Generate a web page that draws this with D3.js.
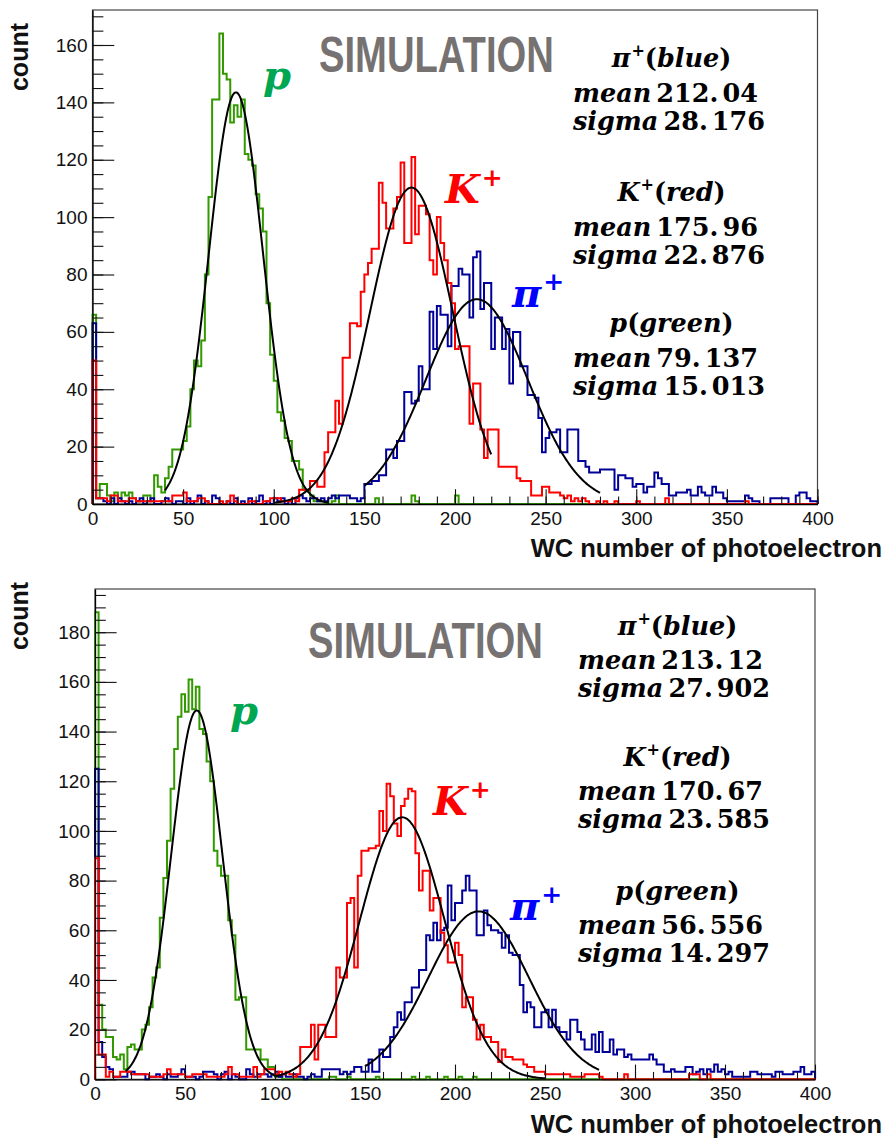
<!DOCTYPE html>
<html>
<head>
<meta charset="utf-8">
<title>WC number of photoelectron</title>
<script src="https://cdnjs.cloudflare.com/ajax/libs/d3/7.8.5/d3.min.js"></script>
<style>
  html, body { margin: 0; padding: 0; background: #fff; }
  svg { display: block; }
</style>
</head>
<body>
<svg id="chart" width="888" height="1142"></svg>
<script>
// 200 bins of width 2 covering 0-400 photoelectrons
const binWidth = 2;
const xTickValues = [0, 50, 100, 150, 200, 250, 300, 350, 400];

// Particle species, in the order the stats text lists them
const particleSymbols = ['π', 'K', 'p'];
const particleCharges = ['+', '+', ''];
const particleColorNames = ['blue', 'red', 'green'];

// ---- Upper panel: counts per bin ----
const upperProton = [
  66,2,7,7,3,1,4,2,4,3, 4,2,1,1,3,3,1,10,6,4,
  9,13,19,19,19,22,27,40,50,48, 57,80,107,141,141,164,150,148,133,139,
  135,141,122,120,118,108,103,95,70,52, 43,32,29,23,22,15,15,12,5,5,
  3,1,1,1,0,0,1,3,0,0, 0,0,0,0,0,0,0,0,2,0,
  0,0,0,0,0,0,0,0,3,1, 0,0,0,0,0,0,0,0,0,0,
  3,0,0,0,0,0,0,0,0,0, 0,0,0,0,0,0,0,0,0,0,
  0,0,0,0,0,0,0,0,0,0, 0,0,0,0,0,0,0,0,0,0,
  0,0,0,0,0,0,0,0,0,0, 0,0,0,0,0,0,0,0,0,0,
  0,0,0,0,0,0,0,0,0,0, 0,0,0,0,0,0,0,0,0,0,
  0,0,0,0,0,0,0,0,0,0, 0,0,0,0,0,0,0,0,0,0
];
const upperKaon = [
  50,2,2,2,1,3,3,1,1,1, 2,2,1,1,1,1,1,1,1,1,
  1,1,3,3,3,4,1,1,1,2, 2,1,0,0,0,1,0,1,3,1,
  0,0,0,1,1,0,0,1,1,2, 2,2,1,1,1,2,1,5,5,5,
  8,8,6,6,18,25,25,36,28,51, 51,63,63,62,74,80,84,89,89,112,
  105,96,96,103,107,119,91,91,121,94, 104,104,101,85,80,100,91,85,77,70,
  54,55,55,55,28,42,42,26,16,26, 26,26,13,13,13,13,13,9,8,8,
  8,3,3,3,6,6,4,4,4,3, 2,3,1,2,1,2,1,0,0,1,
  0,1,0,0,1,0,0,0,0,0, 1,0,0,0,0,0,0,0,2,0,
  0,0,0,0,0,0,0,0,0,0, 0,0,0,0,0,0,0,0,0,0,
  1,0,0,0,0,0,0,0,0,0, 0,0,0,0,0,0,0,0,0,0
];
const upperPion = [
  63,2,2,1,0,2,0,2,1,0, 1,0,1,2,0,1,2,0,0,1,
  2,1,0,1,1,0,2,0,1,3, 0,1,0,3,2,0,0,1,0,2,
  0,1,0,2,0,1,3,0,1,0, 2,1,2,0,1,0,2,3,2,1,
  2,2,1,2,1,2,3,2,3,3, 3,2,2,1,2,7,7,8,8,10,
  10,19,19,16,22,22,39,39,35,36, 48,40,40,67,54,69,66,66,55,76,
  76,82,80,80,65,86,88,68,77,77, 54,65,65,54,61,42,60,60,48,48,
  38,38,37,30,18,23,25,25,26,18, 18,26,26,26,15,15,13,11,11,11,
  12,12,12,12,5,10,10,9,9,6, 7,7,4,6,6,11,9,7,7,3,
  3,4,4,4,5,3,3,6,4,3, 3,6,4,4,2,1,1,1,1,1,
  3,2,1,1,0,0,0,2,2,2, 2,2,0,0,3,4,4,2,1,1
];

// ---- Lower panel: counts per bin ----
const lowerProton = [
  188,30,20,17,17,9,8,10,4,13, 14,12,12,20,22,29,41,45,65,81,
  96,117,133,146,155,148,161,149,158,141, 139,128,120,92,86,82,82,64,58,32,
  33,33,12,12,12,12,8,8,5,5, 1,1,0,0,0,0,0,0,0,0,
  0,0,0,0,0,1,1,0,0,0, 1,0,0,0,0,0,0,0,1,0,
  0,0,0,0,0,0,0,0,1,0, 0,0,1,0,0,0,0,1,0,0,
  0,1,0,0,0,1,0,0,0,0, 0,0,0,0,0,0,0,0,0,0,
  0,0,0,0,0,0,0,0,0,0, 0,0,0,0,0,0,0,0,0,0,
  0,0,0,0,0,0,0,0,0,0, 0,0,0,0,0,0,0,0,0,0,
  0,0,0,0,0,0,0,0,0,0, 0,0,0,0,0,0,0,0,0,0,
  0,0,0,0,0,0,0,0,0,0, 0,0,0,0,0,0,0,0,0,0
];
const lowerKaon = [
  89,10,10,1,3,1,1,3,3,3, 2,2,2,2,2,1,1,1,1,2,
  4,2,2,2,2,1,1,2,2,2, 2,1,1,1,1,1,2,5,2,2,
  1,1,1,1,5,1,2,4,4,4, 2,3,2,3,2,1,2,13,13,13,
  22,8,22,22,17,17,17,45,41,41, 71,73,45,82,92,92,93,93,94,108,
  100,119,114,103,98,110,113,117,116,91, 76,84,84,68,73,73,59,54,47,47,
  55,50,29,33,33,24,16,22,17,17, 15,15,7,12,9,9,8,8,8,6,
  5,5,3,3,3,2,2,2,2,2, 2,2,1,1,1,1,2,2,2,2,
  1,0,0,0,0,0,0,2,0,0, 0,0,0,0,0,0,0,0,0,0,
  0,0,0,0,0,2,2,2,0,0, 2,0,0,0,0,0,0,0,0,0,
  0,0,0,0,0,0,0,0,0,0, 0,0,0,0,0,0,0,0,0,0
];
const lowerPion = [
  125,15,9,5,4,1,1,1,1,3, 3,2,2,2,0,1,1,2,1,0,
  2,1,1,2,4,1,1,1,0,1, 3,3,3,2,0,2,3,0,2,1,
  0,0,4,2,1,2,2,2,1,2, 3,1,2,1,1,2,1,1,0,1,
  2,1,1,4,4,4,4,4,2,3, 2,3,5,5,3,3,8,3,3,12,
  9,9,17,21,27,24,31,31,37,37, 44,44,58,56,63,56,60,61,78,64,
  71,71,76,82,76,76,58,58,68,62, 60,60,59,53,58,51,50,50,38,27,
  31,29,21,21,27,28,21,28,21,19, 19,16,24,24,19,16,12,12,18,11,
  19,11,11,16,10,12,12,9,10,8, 8,8,8,8,10,8,6,6,3,3,
  4,3,3,3,5,5,2,3,4,2, 4,3,6,3,4,2,3,1,1,1,
  1,1,3,3,2,2,2,2,1,3, 3,2,2,2,3,3,5,2,2,3
];

// ---- Gaussian fit results, ordered pion, kaon, proton ----
const upperMean = [212.04, 175.96, 79.137];
const upperSigma = [28.176, 22.876, 15.013];
const upperPeak = [71.4, 110.3, 143.5];
const upperFitFrom = [150, 100, 40];
const upperFitTo = [280, 220, 130];

const lowerMean = [213.12, 170.67, 56.556];
const lowerSigma = [27.902, 23.585, 14.297];
const lowerPeak = [67.6, 105.5, 148.5];
const lowerFitFrom = [150, 100, 17];
const lowerFitTo = [280, 250, 101];

// ---- styling ----
const histColors = ['#000099', '#ff0000', '#339900'];
const tagColors = ['#0000ff', '#ff0000', '#00a651'];
const serif = '"DejaVu Serif", "Liberation Serif", serif';
const sans = '"Liberation Sans", Arial, Helvetica, sans-serif';
const narrow = '"Liberation Sans Narrow", "Liberation Sans", Arial, sans-serif';

const panels = [
  {
    hists: [upperPion, upperKaon, upperProton],
    mean: upperMean, sigma: upperSigma, peak: upperPeak, from: upperFitFrom, to: upperFitTo,
    box: { left: 92.5, right: 817.5, top: 10, bottom: 504 },
    xTitleBase: 557, yTitleTop: 23,
    sim: { left: 319, base: 72 },
    stats: { left: 573, center: 671.5, tops: [67, 201, 332], dMean: 35, dSigma: 63 },
    tags: [[512, 307], [445, 203], [263, 89]]
  },
  {
    hists: [lowerPion, lowerKaon, lowerProton],
    mean: lowerMean, sigma: lowerSigma, peak: lowerPeak, from: lowerFitFrom, to: lowerFitTo,
    box: { left: 95, right: 815, top: 589, bottom: 1079.3 },
    xTitleBase: 1133, yTitleTop: 582,
    sim: { left: 308, base: 658 },
    stats: { left: 578, center: 677.5, tops: [635, 766, 900], dMean: 34, dSigma: 62 },
    tags: [[510, 920], [433, 815], [230, 724]]
  }
];

const svg = d3.select('#chart');
svg.append('rect').attr('width', 888).attr('height', 1142).attr('fill', '#fff');

function stepPoints(counts) {
  const pts = [[0, 0]];
  counts.forEach((c, i) => {
    pts.push([i * binWidth, c], [(i + 1) * binWidth, c]);
  });
  pts.push([counts.length * binWidth, 0]);
  return pts;
}

function splitNumber(v) {
  const s = String(v);
  const i = s.indexOf('.');
  return i < 0 ? [s, ''] : [s.slice(0, i + 1), s.slice(i + 1)];
}

function drawPanel(p) {
  const b = p.box;
  const g = svg.append('g');
  const x = d3.scaleLinear().domain([0, 400]).range([b.left, b.right]);
  const maxCount = d3.max(p.hists.map(h => d3.max(h)));
  const yMax = maxCount * 1.05;
  const y = d3.scaleLinear().domain([0, yMax]).range([b.bottom, b.top]);
  const w = b.right - b.left, h = b.bottom - b.top;

  // frame
  g.append('rect')
    .attr('x', b.left).attr('y', b.top).attr('width', w).attr('height', h)
    .attr('fill', 'none').attr('stroke', '#444').attr('stroke-width', 1.2);

  // histograms: proton first, then pion, kaon on top
  const line = d3.line().x(d => x(d[0])).y(d => y(d[1]));
  [2, 0, 1].forEach(k => {
    g.append('path')
      .attr('d', line(stepPoints(p.hists[k])))
      .attr('fill', 'none')
      .attr('stroke', histColors[k])
      .attr('stroke-width', 2)
      .attr('stroke-linejoin', 'miter');
  });

  // Gaussian fits
  const fitLine = d3.line().x(d => x(d[0])).y(d => y(d[1])).curve(d3.curveBasis);
  [0, 1, 2].forEach(k => {
    const n = 240;
    const pts = d3.range(n + 1).map(j => {
      const v = p.from[k] + (p.to[k] - p.from[k]) * j / n;
      const z = (v - p.mean[k]) / p.sigma[k];
      return [v, p.peak[k] * Math.exp(-0.5 * z * z)];
    });
    g.append('path').attr('d', fitLine(pts))
      .attr('fill', 'none').attr('stroke', '#000').attr('stroke-width', 2);
  });

  // axes (ticks pointing into the frame)
  const yMajor = d3.range(0, yMax, 20);
  const yMinor = d3.range(0, yMax, 5);
  const xMinor = d3.range(0, 401, 10);

  const yAx = g.append('g').attr('transform', `translate(${b.left},0)`)
    .call(d3.axisLeft(y).tickValues(yMajor).tickSize(-0.03 * w).tickSizeOuter(0).tickPadding(5));
  g.append('g').attr('transform', `translate(${b.left},0)`)
    .call(d3.axisLeft(y).tickValues(yMinor).tickSize(-0.015 * w).tickSizeOuter(0).tickFormat(''))
    .call(s => s.select('.domain').remove());
  const xAx = g.append('g').attr('transform', `translate(0,${b.bottom})`)
    .call(d3.axisBottom(x).tickValues(xTickValues).tickSize(-0.03 * h).tickSizeOuter(0).tickPadding(7.5));
  g.append('g').attr('transform', `translate(0,${b.bottom})`)
    .call(d3.axisBottom(x).tickValues(xMinor).tickSize(-0.015 * h).tickSizeOuter(0).tickFormat(''))
    .call(s => s.select('.domain').remove());

  g.selectAll('.tick line').attr('stroke', '#111').attr('stroke-width', 1.1);
  g.selectAll('.domain').attr('stroke', '#000').attr('stroke-width', 1.3);
  [yAx, xAx].forEach(a => a.selectAll('text')
    .attr('font-family', sans).attr('font-size', 19).attr('fill', '#111'));

  // axis titles
  g.append('text')
    .attr('x', 882).attr('y', p.xTitleBase)
    .attr('text-anchor', 'end')
    .attr('font-family', sans).attr('font-weight', 'bold').attr('font-size', 25.5)
    .attr('fill', '#111')
    .text('WC number of photoelectron');
  g.append('text')
    .attr('transform', `translate(28,${p.yTitleTop}) rotate(-90)`)
    .attr('text-anchor', 'end')
    .attr('font-family', sans).attr('font-weight', 'bold').attr('font-size', 25)
    .attr('fill', '#111')
    .text('count');

  // SIMULATION stamp, squeezed horizontally to a condensed face
  const sim = g.append('text')
    .attr('font-family', narrow)
    .attr('font-weight', 'bold').attr('font-size', 50.5)
    .attr('fill', '#767272')
    .text('SIMULATION');
  const natural = sim.node().getComputedTextLength() || 235;
  sim.attr('transform', `translate(${p.sim.left},${p.sim.base}) scale(${235 / natural},1)`);

  // particle tags next to each peak
  p.tags.forEach((pos, k) => {
    const t = g.append('text')
      .attr('x', pos[0]).attr('y', pos[1])
      .attr('font-family', serif).attr('font-weight', 'bold').attr('font-size', 40)
      .attr('fill', tagColors[k]);
    t.append('tspan').attr('font-style', 'italic').text(particleSymbols[k]);
    if (particleCharges[k]) {
      t.append('tspan').attr('font-size', 25).attr('dy', -17).attr('dx', 2).text(particleCharges[k]);
    }
  });

  // fit summary text
  const st = p.stats;
  const fs = 25.5;
  [0, 1, 2].forEach(k => {
    const top = st.tops[k];
    const head = g.append('text')
      .attr('x', st.center).attr('y', top)
      .attr('text-anchor', 'middle')
      .attr('font-family', serif).attr('font-weight', 'bold').attr('font-size', fs)
      .attr('fill', '#000');
    head.append('tspan').attr('font-style', 'italic').text(particleSymbols[k]);
    if (particleCharges[k]) {
      head.append('tspan').attr('font-size', 16).attr('dx', 1).attr('dy', -11).text(particleCharges[k]);
      head.append('tspan').attr('dy', 11).text('(');
    } else {
      head.append('tspan').text('(');
    }
    head.append('tspan').attr('font-style', 'italic').text(particleColorNames[k]);
    head.append('tspan').text(')');

    [['mean', p.mean[k], st.dMean], ['sigma', p.sigma[k], st.dSigma]].forEach(row => {
      const parts = splitNumber(row[1]);
      const t = g.append('text')
        .attr('x', st.left).attr('y', top + row[2])
        .attr('font-family', serif).attr('font-weight', 'bold').attr('font-size', fs)
        .attr('fill', '#000');
      t.append('tspan').attr('font-style', 'italic').text(row[0]);
      t.append('tspan').attr('dx', 5).text(parts[0]);
      t.append('tspan').attr('dx', 4).text(parts[1]);
    });
  });
}

panels.forEach(drawPanel);
</script>
</body>
</html>
